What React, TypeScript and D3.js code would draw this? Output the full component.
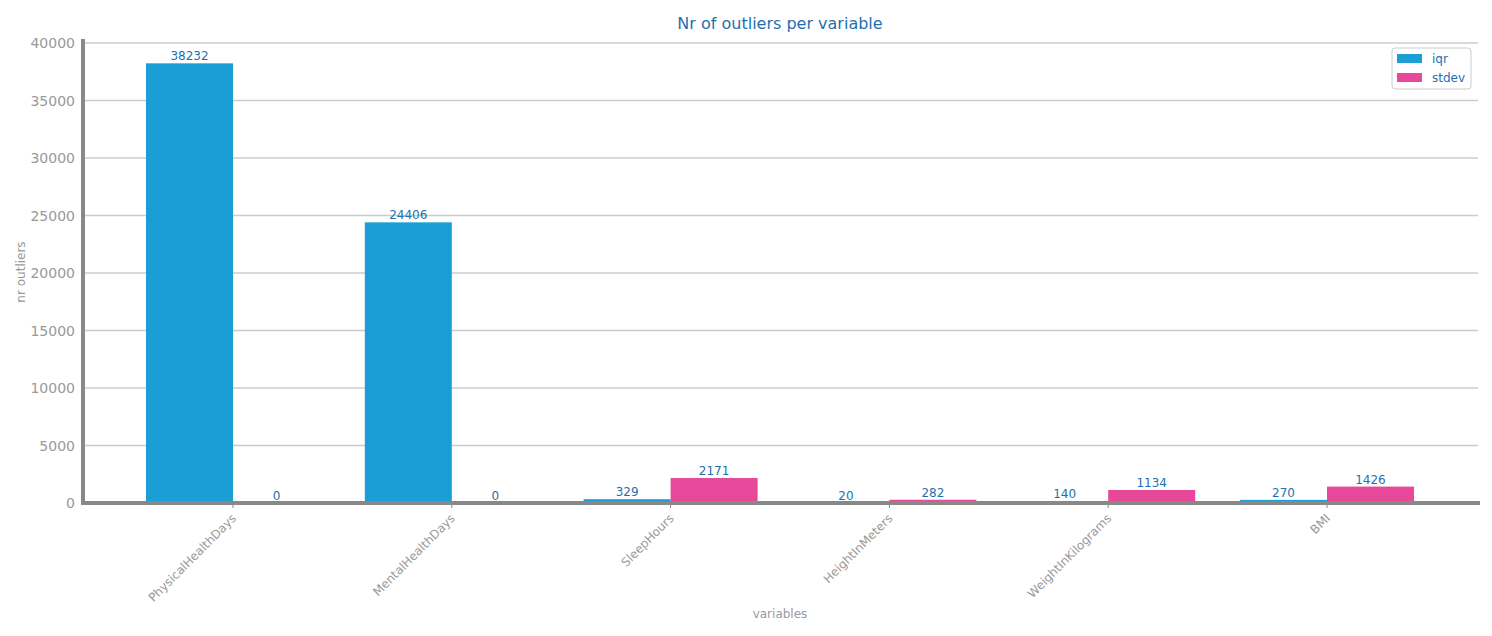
import React from "react";
import * as d3 from "d3";

const categories = ["PhysicalHealthDays", "MentalHealthDays", "SleepHours", "HeightInMeters", "WeightInKilograms", "BMI"];
const iqr = [38232, 24406, 329, 20, 140, 270];
const stdev = [0, 0, 2171, 282, 1134, 1426];
const yTicks = [0, 5000, 10000, 15000, 20000, 25000, 30000, 35000, 40000];

export default function App() {
  const W = 1492, H = 636;
  const L = 83, R = 1478, T = 43, B = 503;
  const x = d3.scalePoint<string>().domain(categories).range([L + 150, R - 151]);
  const y = d3.scaleLinear().domain([0, 40000]).range([B, T]);
  const bw = 87;
  const blue = "#1b9ed6", pink = "#e8489a", txt = "#1f6fb0", gray = "#999";
  return (
    <svg width={W} height={H} style={{ position: "absolute", left: 0, top: 0, fontFamily: "DejaVu Sans, sans-serif" }}>
      <text x={780} y={29} textAnchor="middle" fontSize={16} fill={txt}>Nr of outliers per variable</text>
      {yTicks.map(t => (
        <g key={t}>
          <line x1={L} x2={R} y1={y(t)} y2={y(t)} stroke="#ccc" strokeWidth={1.5} />
          <text x={L - 8} y={y(t) + 5} textAnchor="end" fontSize={14} fill={gray}>{t}</text>
        </g>
      ))}
      {categories.map((c, i) => {
        const cx = x(c)!;
        return (
          <g key={c}>
            <rect x={cx - bw} y={y(iqr[i])} width={bw} height={B - y(iqr[i])} fill={blue} />
            <rect x={cx} y={y(stdev[i])} width={bw} height={B - y(stdev[i])} fill={pink} />
            <text x={cx - bw / 2} y={y(iqr[i]) - 3} textAnchor="middle" fontSize={12} fill={txt}>{iqr[i]}</text>
            <text x={cx + bw / 2} y={y(stdev[i]) - 3} textAnchor="middle" fontSize={12} fill={txt}>{stdev[i]}</text>
            <line x1={cx} x2={cx} y1={B} y2={B + 5} stroke="#888" />
            <text transform={`translate(${cx + 4},${B + 16}) rotate(-45)`} textAnchor="end" fontSize={12} fill={gray}>{c}</text>
          </g>
        );
      })}
      <line x1={L} x2={R + 2} y1={B} y2={B} stroke="#888" strokeWidth={4} />
      <line x1={L} x2={L} y1={T - 4} y2={B + 2} stroke="#888" strokeWidth={4} />
      <text x={780} y={618} textAnchor="middle" fontSize={12} fill={gray}>variables</text>
      <text transform={`translate(25,${272}) rotate(-90)`} textAnchor="middle" fontSize={12} fill={gray}>nr outliers</text>
      <g>
        <rect x={1392} y={48} width={79} height={41} rx={3} fill="white" stroke="#ccc" />
        <rect x={1397} y={54} width={25} height={9} fill={blue} />
        <text x={1432} y={63} fontSize={12} fill={txt}>iqr</text>
        <rect x={1397} y={73} width={25} height={9} fill={pink} />
        <text x={1432} y={82} fontSize={12} fill={txt}>stdev</text>
      </g>
    </svg>
  );
}
